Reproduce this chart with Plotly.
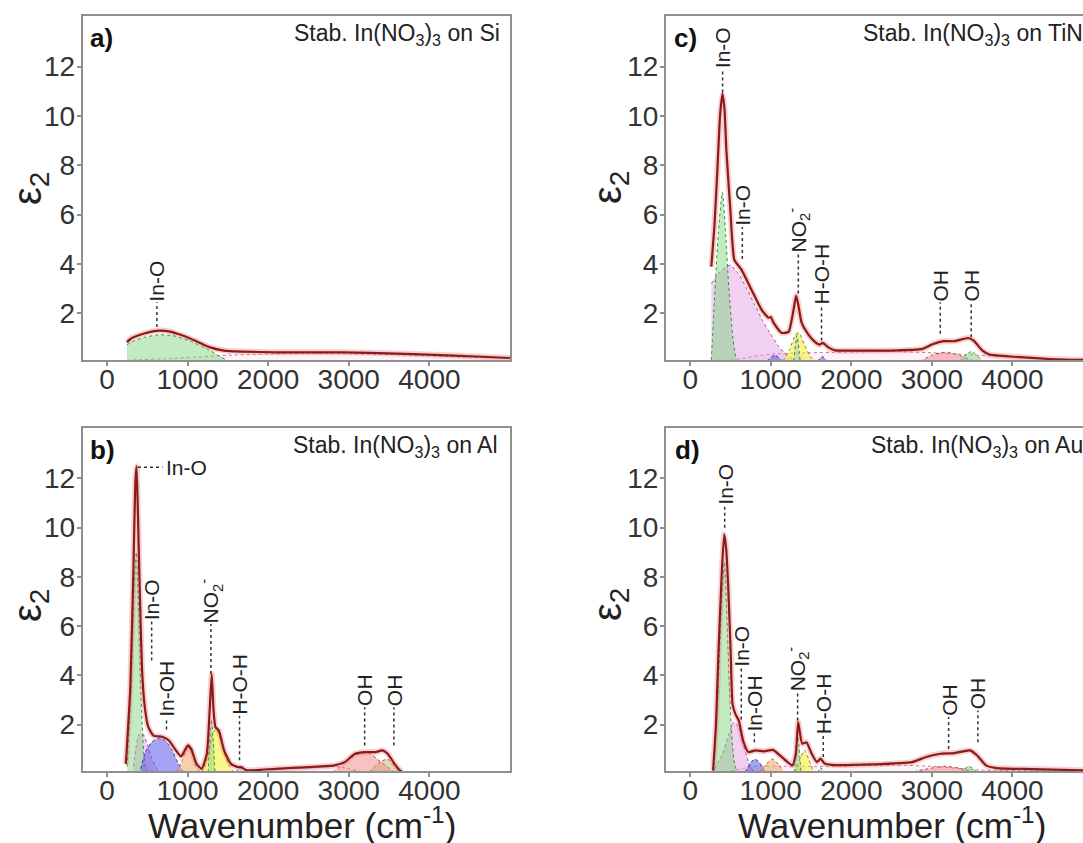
import plotly.graph_objects as go

FONT = "Liberation Sans, Arial, Helvetica, sans-serif"
DARK = "#8b1a1a"
HALO = "rgba(235,120,120,0.35)"
AXC = "#8f8f8f"

XTICKS = [0, 1000, 2000, 3000, 4000]
YTICKS = [2, 4, 6, 8, 10, 12]

# ---------------- panel a (Si) ----------------
A_TOT_X = [248, 300, 385, 513, 641, 769, 940, 1111, 1282, 1453, 1667, 2094, 2949, 3803, 4658, 5000]
A_TOT_Y = [0.83, 0.98, 1.10, 1.23, 1.30, 1.27, 1.10, 0.87, 0.62, 0.49, 0.45, 0.42, 0.42, 0.35, 0.24, 0.19]
A_GRN_X = [248, 350, 470, 641, 812, 1026, 1239, 1410, 1496]
A_GRN_Y = [0.73, 0.90, 1.03, 1.13, 1.10, 0.89, 0.56, 0.24, 0.08]
A_BG_X = [248, 800, 1500, 2500, 3500, 4500, 5000]
A_BG_Y = [0.10, 0.17, 0.30, 0.38, 0.33, 0.22, 0.18]

# ---------------- panel b (Al) ----------------
B_TOT_X = [235, 290, 330, 352, 368, 385, 406, 436, 470, 513, 577, 684, 769, 855, 919, 1004, 1047, 1111, 1175,
           1239, 1275, 1300, 1322, 1346, 1389, 1453, 1538, 1624, 1667, 1731, 2094, 2521, 2821, 2949, 3077, 3205,
           3333, 3419, 3483, 3568, 3632, 3660]
B_TOT_Y = [0.40, 3.5, 8.5, 11.8, 12.5, 10.5, 7.6, 4.2, 2.7, 1.9, 1.55, 1.5, 1.35, 0.95, 0.70, 1.15, 1.0, 0.40, 0.20,
           0.80, 2.6, 4.05, 2.6, 1.9, 1.75, 0.95, 0.40, 0.27, 0.27, 0.14, 0.20, 0.27, 0.34, 0.47, 0.81, 0.88,
           0.88, 0.95, 0.81, 0.40, 0.14, 0.10]
B_GRN_X = [250, 300, 340, 365, 395, 430, 470, 500]
B_GRN_Y = [0.3, 3.5, 7.8, 9.0, 6.5, 2.5, 0.4, 0.1]
B_PNK_X = [330, 400, 450, 500, 560, 620, 680]
B_PNK_Y = [0.3, 1.6, 1.6, 1.2, 0.6, 0.2, 0.05]
B_BLU_X = [420, 480, 560, 650, 720, 800, 880, 940]
B_BLU_Y = [0.2, 0.9, 1.3, 1.45, 1.35, 1.0, 0.45, 0.1]
B_ORG_X = [860, 930, 1000, 1050, 1110, 1160]
B_ORG_Y = [0.05, 0.5, 1.1, 0.9, 0.3, 0.05]
B_YEL_X = [1180, 1250, 1320, 1360, 1400, 1460, 1520, 1580]
B_YEL_Y = [0.05, 0.7, 1.7, 1.8, 1.5, 0.8, 0.3, 0.05]
B_NO2_X = [1255, 1297, 1340]
B_NO2_Y = [0.05, 2.2, 0.05]
B_HOH_X = [1600, 1650, 1700]
B_HOH_Y = [0.05, 0.25, 0.05]
B_BG_X = [1650, 2000, 2500, 2850, 3000, 3200]
B_BG_Y = [0.05, 0.18, 0.25, 0.30, 0.20, 0.05]
B_OH1_X = [2800, 2950, 3100, 3250, 3350, 3450, 3550, 3620]
B_OH1_Y = [0.05, 0.45, 0.80, 0.85, 0.60, 0.35, 0.10, 0.02]
B_OH2_X = [3250, 3380, 3480, 3560, 3650]
B_OH2_Y = [0.05, 0.45, 0.60, 0.35, 0.02]

# ---------------- panel c (TiN) ----------------
C_TOT_X = [262, 300, 340, 370, 400, 425, 449, 498, 548, 636, 760, 885, 972, 1000, 1034, 1134, 1221, 1283, 1315,
           1346, 1383, 1470, 1545, 1607, 1640, 1657, 1720, 1800, 2054, 2491, 2885, 3016, 3147, 3278, 3453, 3519,
           3628, 3716, 4022, 4459, 4876]
C_TOT_Y = [3.89, 5.5, 8.0, 10.0, 10.9, 10.3, 8.6, 6.2, 4.17, 3.77, 2.96, 2.15, 1.82, 1.85, 1.62, 1.21, 1.25, 2.15,
           2.72, 2.27, 1.62, 1.13, 0.85, 0.73, 0.80, 0.78, 0.61, 0.50, 0.49, 0.49, 0.56, 0.76, 0.87, 0.87, 1.0,
           0.89, 0.49, 0.33, 0.24, 0.15, 0.11]
C_GRN_X = [262, 300, 350, 399, 440, 480, 530, 570]
C_GRN_Y = [0.1, 2.5, 5.3, 6.9, 5.2, 3.0, 1.0, 0.1]
C_PNK_X = [262, 350, 430, 500, 600, 700, 800, 900, 1000, 1100, 1200, 1300]
C_PNK_Y = [3.2, 3.6, 3.85, 3.95, 3.6, 3.0, 2.35, 1.7, 1.15, 0.65, 0.3, 0.1]
C_BLU_X = [950, 1050, 1150]
C_BLU_Y = [0.05, 0.3, 0.05]
C_YEL_X = [1150, 1230, 1310, 1350, 1420, 1490, 1550]
C_YEL_Y = [0.05, 0.5, 1.15, 1.2, 0.7, 0.25, 0.05]
C_NO2_X = [1285, 1325, 1365]
C_NO2_Y = [0.05, 1.1, 0.05]
C_HOH_X = [1580, 1640, 1700]
C_HOH_Y = [0.05, 0.25, 0.05]
C_BG_X = [500, 1000, 1500, 2500, 3000, 3700, 4876]
C_BG_Y = [0.10, 0.35, 0.40, 0.45, 0.40, 0.28, 0.10]
C_OH1_X = [2850, 3000, 3150, 3300, 3450, 3550]
C_OH1_Y = [0.05, 0.30, 0.42, 0.35, 0.15, 0.05]
C_OH2_X = [3340, 3490, 3630]
C_OH2_Y = [0.05, 0.45, 0.05]

# ---------------- panel d (Au) ----------------
D_TOT_X = [284, 320, 350, 393, 422, 445, 472, 503, 525, 560, 603, 656, 721, 809, 918, 1027, 1136, 1268, 1311,
           1340, 1390, 1443, 1508, 1574, 1617, 1670, 1749, 2273, 2754, 2929, 3104, 3279, 3388, 3475, 3563, 3672,
           3803, 4240, 4876]
D_TOT_Y = [0.13, 2.0, 4.86, 8.24, 9.73, 9.2, 7.57, 4.86, 2.84, 2.43, 2.16, 1.35, 0.88, 0.95, 0.91, 0.97, 0.68,
           0.34, 0.81, 2.1, 1.22, 1.28, 0.81, 0.47, 0.61, 0.41, 0.36, 0.38, 0.47, 0.68, 0.81, 0.84, 0.91, 0.95,
           0.74, 0.34, 0.23, 0.19, 0.14]
D_GRN_X = [290, 340, 390, 425, 460, 500, 540, 580]
D_GRN_Y = [0.1, 3.0, 7.0, 8.6, 6.0, 2.5, 0.6, 0.05]
D_PNK_X = [300, 400, 480, 540, 600, 660, 720, 780]
D_PNK_Y = [0.2, 0.8, 1.6, 2.1, 1.9, 1.2, 0.5, 0.1]
D_BLU_X = [680, 740, 800, 860, 930]
D_BLU_Y = [0.05, 0.4, 0.6, 0.45, 0.05]
D_ORG_X = [850, 930, 1020, 1090, 1170]
D_ORG_Y = [0.05, 0.35, 0.6, 0.4, 0.05]
D_YEL_X = [1300, 1360, 1420, 1470, 1530]
D_YEL_Y = [0.05, 0.6, 0.95, 0.6, 0.1]
D_NO2_X = [1290, 1335, 1375]
D_NO2_Y = [0.05, 1.6, 0.05]
D_HOH_X = [1580, 1620, 1660]
D_HOH_Y = [0.03, 0.25, 0.03]
D_BG_X = [500, 800, 1200, 1700, 2500, 3000, 3600, 4876]
D_BG_Y = [0.10, 0.30, 0.30, 0.30, 0.35, 0.30, 0.15, 0.12]
D_OH1_X = [2700, 2950, 3150, 3350, 3550]
D_OH1_Y = [0.03, 0.20, 0.30, 0.22, 0.03]
D_OH2_X = [3350, 3460, 3570]
D_OH2_Y = [0.03, 0.30, 0.03]

# ---------------- peak labels ----------------
NO2 = "NO<sub>2</sub><sup>-</sup>"
A_LBL = ["In-O"]
A_LBL_X = [620]
A_LBL_Y0 = [1.45]
A_LBL_Y1 = [2.45]

B_LBL = ["In-O", "In-OH", NO2, "H-O-H", "OH", "OH"]
B_LBL_X = [555, 739, 1290, 1645, 3197, 3560]
B_LBL_Y0 = [4.6, 1.8, 4.05, 0.55, 1.15, 1.15]
B_LBL_Y1 = [6.2, 2.25, 6.08, 2.36, 2.7, 2.7]
B_TOP_LBL = "In-O"
B_TOP_X0 = 385
B_TOP_X1 = 690
B_TOP_Y = 12.45

C_LBL = ["In-O", "In-O", NO2, "H-O-H", "OH", "OH"]
C_LBL_X = [402, 647, 1342, 1630, 3104, 3488]
C_LBL_Y0 = [10.95, 4.2, 2.8, 0.9, 1.17, 1.03]
C_LBL_Y1 = [11.9, 5.5, 4.42, 2.32, 2.45, 2.45]

D_LBL = ["In-O", "In-O", "In-OH", NO2, "H-O-H", "OH", "OH"]
D_LBL_X = [428, 634, 796, 1333, 1652, 3208, 3571]
D_LBL_Y0 = [10.0, 2.2, 1.28, 2.16, 0.68, 1.0, 1.28]
D_LBL_Y1 = [10.9, 4.3, 1.69, 3.31, 1.55, 2.3, 2.57]

COLORS = {
    "green": ("rgba(120,210,120,0.45)", "#3c8a3c"),
    "pink": ("rgba(225,150,225,0.45)", "#a050a0"),
    "blue": ("rgba(90,90,235,0.55)", "#3030a0"),
    "orange": ("rgba(240,160,90,0.50)", "#b06020"),
    "yellow": ("rgba(245,240,60,0.60)", "#7a7a20"),
    "red": ("rgba(240,120,120,0.45)", "#a04040"),
    "tan": ("rgba(205,165,115,0.50)", "#806040"),
    "bg": ("rgba(240,170,200,0.15)", "#b080a0"),
    "teal": ("rgba(120,200,200,0.35)", "#307070"),
}

PANELS = [
    dict(xa="x", ya="y", tot=(A_TOT_X, A_TOT_Y),
         comps=[(A_BG_X, A_BG_Y, "bg"), (A_GRN_X, A_GRN_Y, "green")],
         lbl=(A_LBL, A_LBL_X, A_LBL_Y0, A_LBL_Y1)),
    dict(xa="x2", ya="y2", tot=(C_TOT_X, C_TOT_Y),
         comps=[(C_BG_X, C_BG_Y, "bg"), (C_PNK_X, C_PNK_Y, "pink"), (C_GRN_X, C_GRN_Y, "green"),
                (C_BLU_X, C_BLU_Y, "blue"), (C_YEL_X, C_YEL_Y, "yellow"), (C_NO2_X, C_NO2_Y, "teal"),
                (C_HOH_X, C_HOH_Y, "blue"), (C_OH1_X, C_OH1_Y, "red"), (C_OH2_X, C_OH2_Y, "green")],
         lbl=(C_LBL, C_LBL_X, C_LBL_Y0, C_LBL_Y1)),
    dict(xa="x3", ya="y3", tot=(B_TOT_X, B_TOT_Y),
         comps=[(B_BG_X, B_BG_Y, "bg"), (B_PNK_X, B_PNK_Y, "pink"), (B_GRN_X, B_GRN_Y, "green"),
                (B_BLU_X, B_BLU_Y, "blue"), (B_ORG_X, B_ORG_Y, "orange"), (B_YEL_X, B_YEL_Y, "yellow"),
                (B_NO2_X, B_NO2_Y, "green"), (B_HOH_X, B_HOH_Y, "teal"), (B_OH1_X, B_OH1_Y, "red"),
                (B_OH2_X, B_OH2_Y, "tan")],
         lbl=(B_LBL, B_LBL_X, B_LBL_Y0, B_LBL_Y1)),
    dict(xa="x4", ya="y4", tot=(D_TOT_X, D_TOT_Y),
         comps=[(D_BG_X, D_BG_Y, "bg"), (D_PNK_X, D_PNK_Y, "pink"), (D_GRN_X, D_GRN_Y, "green"),
                (D_BLU_X, D_BLU_Y, "blue"), (D_ORG_X, D_ORG_Y, "orange"), (D_YEL_X, D_YEL_Y, "yellow"),
                (D_NO2_X, D_NO2_Y, "green"), (D_HOH_X, D_HOH_Y, "teal"), (D_OH1_X, D_OH1_Y, "red"),
                (D_OH2_X, D_OH2_Y, "green")],
         lbl=(D_LBL, D_LBL_X, D_LBL_Y0, D_LBL_Y1)),
]

fig = go.Figure()
shapes = []
annotations = []
LBL_FONT = dict(size=21, color="#222", family=FONT)

for p in PANELS:
    xa, ya = p["xa"], p["ya"]
    for xs, ys, key in p["comps"]:
        fill, lc = COLORS[key]
        fig.add_trace(go.Scatter(x=xs, y=ys, mode="lines", fill="tozeroy", fillcolor=fill,
                                 line=dict(color=lc, width=1, dash="dot", shape="spline", smoothing=0.6),
                                 xaxis=xa, yaxis=ya, hoverinfo="skip", showlegend=False))
    tx, ty = p["tot"]
    fig.add_trace(go.Scatter(x=tx, y=ty, mode="lines",
                             line=dict(color=HALO, width=6, shape="spline", smoothing=0.5),
                             xaxis=xa, yaxis=ya, hoverinfo="skip", showlegend=False))
    fig.add_trace(go.Scatter(x=tx, y=ty, mode="lines",
                             line=dict(color=DARK, width=2.2, shape="spline", smoothing=0.5),
                             xaxis=xa, yaxis=ya, hoverinfo="skip", showlegend=False))
    texts, lx, ly0, ly1 = p["lbl"]
    for t, x, y0, y1 in zip(texts, lx, ly0, ly1):
        shapes.append(dict(type="line", xref=xa, yref=ya, x0=x, x1=x, y0=y0, y1=y1,
                           line=dict(color="#333", width=1.5, dash="dot")))
        annotations.append(dict(xref=xa, yref=ya, x=x, y=y1, text=t, textangle=-90, showarrow=False,
                                xanchor="center", yanchor="bottom", borderpad=0, font=LBL_FONT))

# horizontal In-O label on panel b
shapes.append(dict(type="line", xref="x3", yref="y3", x0=B_TOP_X0, x1=B_TOP_X1, y0=B_TOP_Y, y1=B_TOP_Y,
                   line=dict(color="#333", width=1.5, dash="dot")))
annotations.append(dict(xref="x3", yref="y3", x=B_TOP_X1 + 20, y=B_TOP_Y, text=B_TOP_LBL, showarrow=False,
                        xanchor="left", yanchor="middle", font=LBL_FONT))

# panel letters and titles
PANEL_TXT = [
    ("<b>a)</b>", 0.0813, 0.9549, "Stab. In(NO<sub>3</sub>)<sub>3</sub> on Si", 0.4635, 0.9585),
    ("<b>c)</b>", 0.6205, 0.9549, "Stab. In(NO<sub>3</sub>)<sub>3</sub> on TiN", 1.0018, 0.9585),
    ("<b>b)</b>", 0.0813, 0.4662, "Stab. In(NO<sub>3</sub>)<sub>3</sub> on Al", 0.4617, 0.4698),
    ("<b>d)</b>", 0.6215, 0.4662, "Stab. In(NO<sub>3</sub>)<sub>3</sub> on Au", 1.0018, 0.4698),
]
for let, lx, lyy, st, sx, sy in PANEL_TXT:
    annotations.append(dict(xref="paper", yref="paper", x=lx, y=lyy, text=let, showarrow=False,
                            xanchor="left", yanchor="middle", font=dict(size=26, color="#111", family=FONT)))
    annotations.append(dict(xref="paper", yref="paper", x=sx, y=sy, text=st, showarrow=False,
                            xanchor="right", yanchor="middle", font=dict(size=23, color="#222", family=FONT)))

for ex, ey in [(0.0277, 0.777), (0.5633, 0.777), (0.0277, 0.2823), (0.5633, 0.2823)]:
    annotations.append(dict(xref="paper", yref="paper", x=ex, y=ey, text="ε<sub>2</sub>", textangle=-90,
                            showarrow=False, xanchor="center", yanchor="middle",
                            font=dict(size=40, color="#222", family=FONT)))

for wx in [0.279, 0.8236]:
    annotations.append(dict(xref="paper", yref="paper", x=wx, y=0.0235, text="Wavenumber (cm<sup>-1</sup>)",
                            showarrow=False, xanchor="center", yanchor="middle",
                            font=dict(size=35, color="#222", family=FONT)))

XD_LEFT = [0.0764, 0.4709]
XD_RIGHT = [0.6150, 1.0]
YD_TOP = [0.5730, 0.9810]
YD_BOT = [0.0854, 0.4923]
XR_LEFT = [-300, 5000]
XR_RIGHT = [-300, 4876]
YR = [0.11, 14.05]


def xax(domain, rng, anchor):
    return dict(domain=domain, range=rng, anchor=anchor, showline=True, linecolor=AXC, linewidth=2,
                mirror=True, ticks="outside", ticklen=4, tickwidth=1.5, tickcolor=AXC, tickvals=XTICKS,
                ticklabelstandoff=-11,
                tickfont=dict(size=28, color="#333", family=FONT), showgrid=False, zeroline=False)


def yax(domain, anchor, mirror):
    return dict(domain=domain, range=YR, anchor=anchor, showline=True, linecolor=AXC, linewidth=2,
                mirror=mirror, ticks="outside", ticklen=4, tickwidth=1.5, tickcolor=AXC, tickvals=YTICKS,
                ticklabelstandoff=-4,
                tickfont=dict(size=28, color="#333", family=FONT), showgrid=False, zeroline=False)


fig.update_layout(
    width=1083, height=843, autosize=False,
    margin=dict(l=0, r=0, t=0, b=0),
    paper_bgcolor="white", plot_bgcolor="white",
    showlegend=False,
    xaxis=xax(XD_LEFT, XR_LEFT, "y"), yaxis=yax(YD_TOP, "x", True),
    xaxis2=xax(XD_RIGHT, XR_RIGHT, "y2"), yaxis2=yax(YD_TOP, "x2", False),
    xaxis3=xax(XD_LEFT, XR_LEFT, "y3"), yaxis3=yax(YD_BOT, "x3", True),
    xaxis4=xax(XD_RIGHT, XR_RIGHT, "y4"), yaxis4=yax(YD_BOT, "x4", False),
    shapes=shapes, annotations=annotations,
)

fig.write_html("out.html")
